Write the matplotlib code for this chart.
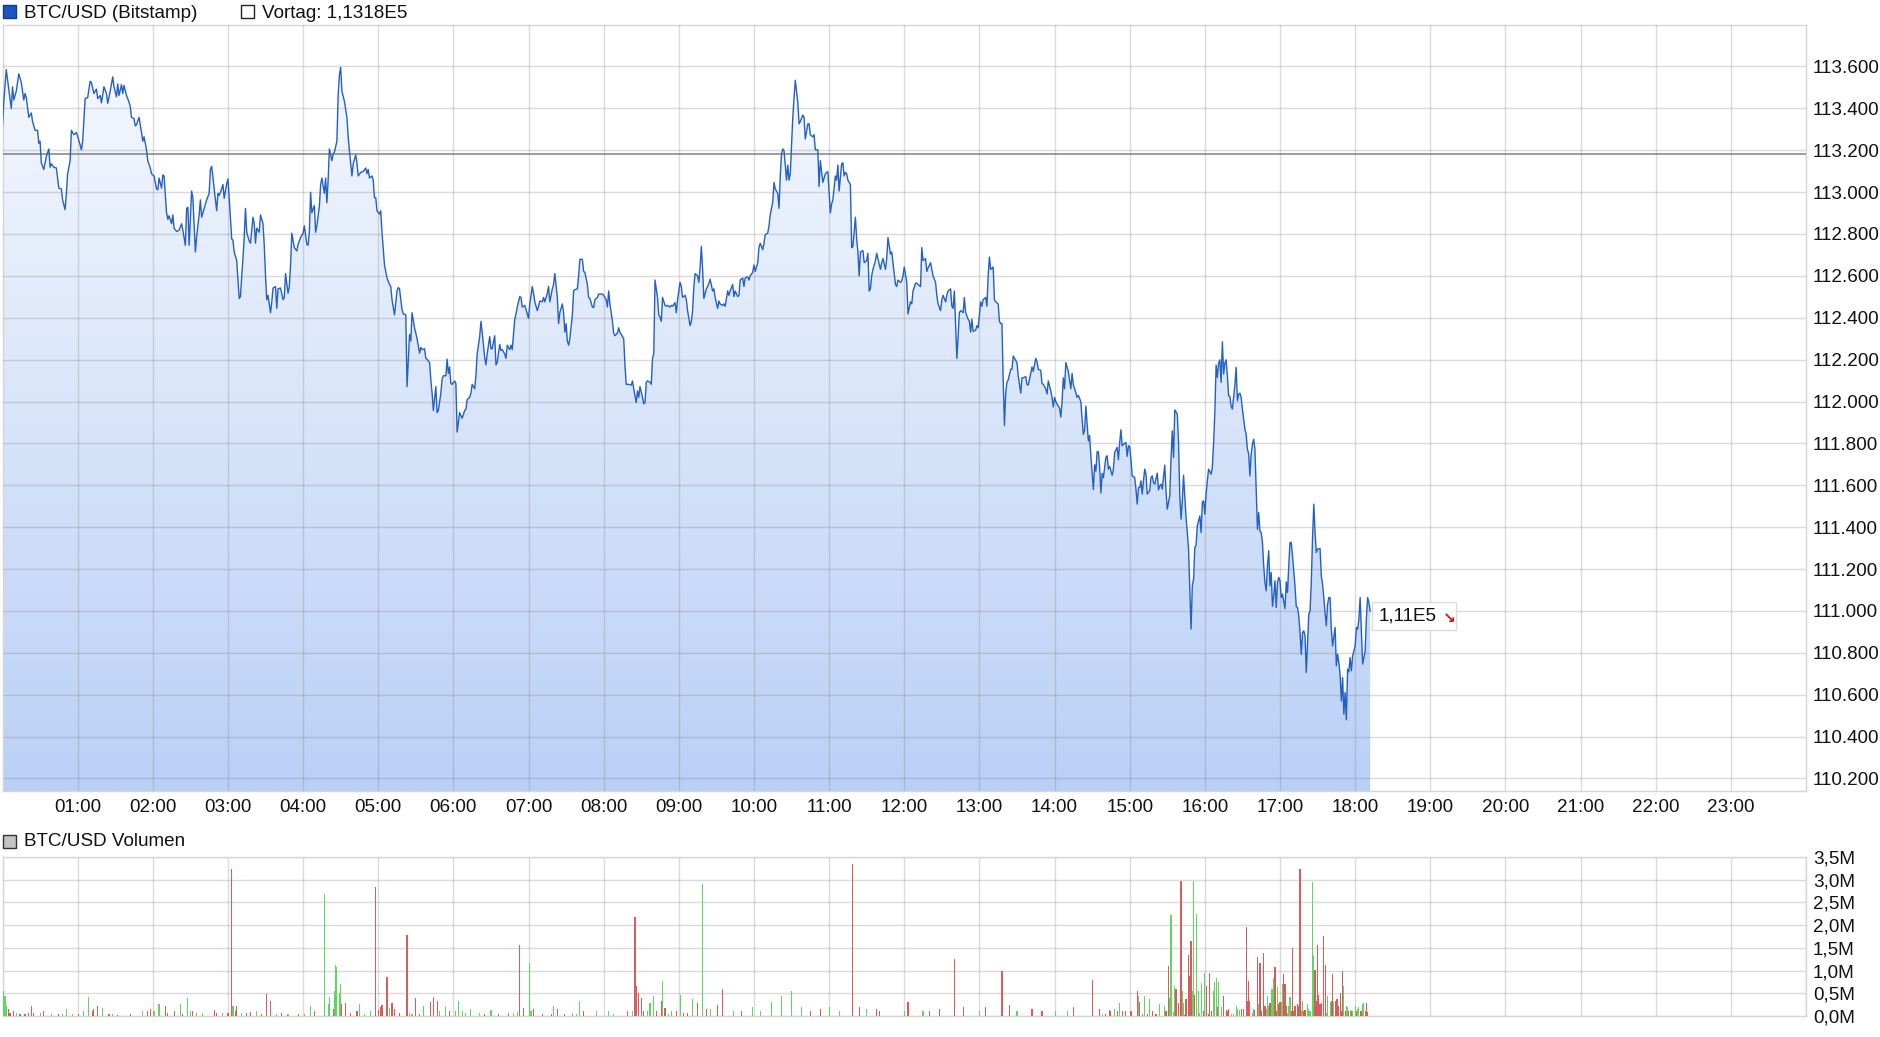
import numpy as np
import matplotlib
matplotlib.use("Agg")
import matplotlib.pyplot as plt
from matplotlib.patches import Rectangle, Polygon
from matplotlib.colors import LinearSegmentedColormap
from matplotlib.transforms import IdentityTransform

# ---------------- data ----------------
price_min = [
0,1,3,5,7,8,9,11,13,15,17,18,19,21,23,24,26,28,29,30,31,33,35,37,38,39,41,43,45,47,48,50,51,52,54,55,57,59,
61,63,64,65,66,68,70,71,73,75,76,78,79,81,83,84,86,88,89,91,92,93,95,96,97,99,101,102,103,105,106,107,109,111,112,113,115,116,118,119,
121,123,124,125,127,128,129,131,132,133,135,136,137,139,141,143,144,146,147,148,149,151,152,154,155,157,158,159,161,163,165,166,167,169,171,172,173,175,176,177,179,
180,181,183,184,185,187,189,190,191,192,193,194,195,197,198,200,201,202,203,205,206,208,209,210,211,212,214,215,216,218,219,220,222,
224,225,226,228,229,230,231,233,235,236,238,240,241,243,244,245,246,247,249,250,251,253,254,255,257,258,259,260,261,263,264,265,267,268,269,270,271,273,275,276,277,279,
280,282,283,284,286,288,290,291,292,293,295,296,297,298,299,301,302,303,305,306,307,309,310,311,313,315,316,317,319,320,322,323,325,326,327,329,330,331,333,334,335,337,338,339,
341,342,343,344,346,347,348,350,351,352,354,355,356,357,358,359,361,362,363,365,366,367,369,370,371,373,374,375,377,378,379,381,382,383,385,386,387,389,390,391,393,394,395,397,398,399,
401,402,403,405,406,407,409,410,411,413,414,415,417,418,420,421,423,424,425,427,428,429,431,432,433,435,436,437,439,440,441,
443,444,445,447,448,449,450,451,452,453,455,456,457,459,460,461,463,464,465,467,468,469,471,472,473,475,476,477,479,
480,482,483,484,485,487,488,489,491,492,493,495,496,497,498,499,500,502,503,504,506,507,508,509,511,512,513,514,515,517,518,519,520,
521,523,524,525,526,527,529,530,531,533,534,535,537,538,539,541,542,543,545,546,547,549,550,551,552,553,555,556,557,558,559,560,
562,563,564,565,567,568,569,571,572,573,575,576,577,579,580,581,583,584,585,587,588,589,591,592,593,595,596,597,599,
600,601,603,604,605,607,608,609,611,612,613,615,616,617,619,620,621,622,623,624,626,627,628,629,631,632,633,635,636,637,639,
640,641,643,644,645,647,648,649,651,652,653,655,656,657,659,
661,662,663,665,666,667,668,670,671,672,673,674,675,677,678,679,681,682,683,684,685,687,688,690,691,692,693,694,695,697,698,699,
701,702,703,705,706,707,709,710,711,713,714,715,717,718,719,720,722,723,725,726,727,729,730,731,733,734,735,737,738,739,
741,742,743,745,746,747,749,750,751,753,754,755,757,758,759,760,762,763,764,765,767,768,769,771,772,773,774,775,777,778,779,
781,782,783,785,786,787,788,789,791,792,793,795,796,797,798,799,800,801,802,803,805,806,807,809,810,811,813,814,815,817,818,819,
821,822,823,825,826,827,829,830,831,833,834,835,837,838,839,840,841,843,844,845,846,847,848,849,851,852,853,854,855,857,858,859,
861,862,863,864,865,867,868,869,871,872,873,874,875,876,877,878,879,
881,882,883,884,886,887,888,890,891,892,893,894,895,897,898,899,900,901,902,904,905,906,907,908,909,910,911,912,913,914,916,917,918,919,
920,922,923,924,925,926,928,929,930,932,933,934,935,936,938,939,940,941,942,943,944,945,946,947,948,949,950,951,952,953,954,956,957,958,959,
960,961,962,963,965,966,967,968,969,970,971,972,973,974,975,976,977,978,979,980,981,982,984,985,986,987,988,989,990,992,993,994,995,996,997,998,999,
1000,1001,1002,1003,1004,1005,1006,1007,1008,1009,1010,1011,1012,1013,1014,1015,1016,1017,1018,1019,1020,1021,1022,1024,1025,1026,1027,1028,1029,1030,1032,1033,1034,1035,1036,1037,1038,1039,
1040,1041,1042,1043,1044,1045,1046,1047,1048,1049,1050,1052,1053,1054,1055,1056,1057,1058,1059,1060,1061,1062,1064,1065,1066,1067,1068,1069,1070,1071,1072,1073,1074,1075,1076,1077,1078,
1080,1081,1082,1083,1084,1085,1086,1088,1089,1090,1091,1092]

price_val = [
113316,113430,113585,113492,113399,113503,113440,113482,113565,113523,113440,113471,113451,113357,113378,113337,113295,113295,113233,113243,113140,113108,113171,113206,113119,113135,113119,113115,113019,113015,112963,112916,112994,113088,113150,113295,113274,113285,
113247,113202,113243,113347,113447,113451,113529,113523,113471,113492,113447,113461,113426,113503,113471,113424,113482,113550,113503,113455,113517,113461,113513,113471,113509,113461,113430,113409,113357,113351,113316,113322,113357,113285,113243,113264,113202,113150,113115,113088,
113077,113015,113011,113067,113019,113082,113077,112901,112870,112887,112849,112891,112828,112812,112818,112849,112818,112746,112922,112928,112746,113005,112974,112714,112787,112891,112963,112880,112922,112963,112994,113108,113123,113019,112911,112994,112984,113015,113036,112970,113040,
113063,112974,112777,112770,112714,112673,112492,112501,112600,112683,112787,112922,112808,112766,112756,112880,112849,112756,112828,112808,112891,112849,112746,112600,112486,112507,112424,112476,112542,112549,112445,112538,112542,
112486,112497,112611,112517,112549,112652,112804,112735,112719,112750,112783,112804,112839,112750,112746,112808,112999,112901,112936,112808,112839,112932,113036,113067,112994,113067,112949,113057,113206,113150,113181,113191,113243,113461,113559,113596,113482,113434,113357,113264,113198,113077,
113135,113177,113140,113077,113094,113098,113115,113088,113108,113067,113077,113057,112974,112974,112911,112895,112911,112808,112652,112621,112590,112559,112549,112486,112414,112528,112544,112538,112439,112418,112414,112071,112320,112289,112424,112351,112327,112300,112231,112258,112248,112252,112206,112202,
112186,112103,112040,111957,112071,111947,111957,112040,112107,112123,112123,112202,112134,112165,112086,112082,112098,112086,111854,111947,111933,111920,111957,111962,112009,112020,112040,112082,112061,112123,112227,112310,112383,112331,112210,112175,112227,112310,112252,112252,112314,112175,112186,112273,112244,112248,
112227,112206,112269,112248,112269,112248,112393,112418,112451,112501,112497,112451,112459,112439,112397,112466,112549,112517,112476,112434,112455,112480,112476,112497,112476,112517,112549,112476,112538,112559,112611,
112497,112372,112424,112466,112424,112331,112372,112289,112269,112300,112414,112528,112534,112538,112600,112679,112679,112621,112617,112559,112497,112492,112451,112449,112486,112497,112513,112513,112513,
112507,112486,112451,112528,112466,112383,112327,112314,112327,112352,112331,112310,112300,112175,112082,112082,112082,112078,112098,112061,111995,112051,112020,112071,112020,111989,111995,112092,112098,112092,112082,112206,112227,
112580,112497,112414,112403,112383,112497,112459,112455,112459,112451,112459,112455,112472,112424,112486,112569,112549,112497,112507,112486,112434,112362,112383,112434,112549,112611,112600,112569,112642,112741,112631,112492,
112538,112549,112565,112584,112528,112538,112497,112445,112480,112466,112459,112466,112455,112528,112507,112528,112559,112501,112528,112501,112507,112580,112590,112549,112590,112596,112580,112600,112617,
112652,112621,112663,112735,112756,112725,112756,112797,112804,112839,112891,112953,113046,113015,112994,112922,113077,113181,113206,113198,113057,113129,113057,113088,113357,113451,113534,113430,113326,113337,113368,
113357,113254,113326,113326,113274,113264,113274,113202,113202,113026,113150,113046,113067,113088,113098,
112901,112943,112963,113077,113057,113129,113005,113135,113140,113077,113094,113088,113057,113036,112735,112741,112880,112777,112714,112600,112714,112721,112663,112673,112708,112528,112538,112600,112631,112673,112708,112683,
112631,112663,112683,112631,112683,112783,112704,112714,112663,112559,112549,112580,112569,112576,112600,112642,112569,112418,112476,112466,112528,112565,112565,112559,112549,112735,112673,112683,112621,112638,
112663,112631,112600,112569,112507,112466,112434,112486,112507,112476,112507,112528,112538,112455,112445,112528,112206,112310,112424,112434,112424,112497,112424,112393,112383,112331,112393,112335,112341,112362,112352,
112476,112455,112486,112497,112455,112600,112690,112631,112642,112486,112476,112466,112383,112372,112372,112103,111885,112040,112092,112103,112154,112154,112217,112196,112186,112123,112040,112113,112113,112119,112082,112078,
112134,112165,112144,112206,112190,112154,112148,112086,112082,112061,112036,112098,112051,112020,111974,112020,111999,111978,111968,111926,111999,112113,112061,112186,112144,112103,112061,112134,112082,112040,112020,112030,
111999,111916,111843,111864,111978,111812,111837,111740,111580,111698,111667,111760,111760,111688,111563,111657,111636,
111733,111741,111677,111690,111648,111677,111757,111781,111722,111804,111865,111789,111796,111804,111738,111789,111785,111725,111645,111637,111581,111510,111589,111589,111621,111558,111621,111677,111653,111558,111574,111637,111645,111613,
111605,111658,111578,111597,111605,111582,111696,111574,111486,111550,111725,111860,111733,111960,111940,111804,111550,111438,111526,111648,111550,111446,111374,111295,111104,110913,111120,111152,111303,111314,111406,111454,111374,111518,111526,
111462,111558,111621,111677,111653,111685,111804,111948,112174,112115,112183,112199,112091,112285,112131,112183,112199,112123,112027,112024,111976,111964,112078,112163,112004,112035,112040,112019,111964,111868,111844,111773,111749,111645,111749,111796,111820,
111773,111582,111390,111470,111382,111374,111327,111215,111136,111096,111215,111287,111120,111183,111021,111072,111144,111016,111136,111160,111144,111064,111080,111011,111139,111088,111215,111327,111327,111263,111120,111021,111016,110976,110897,110793,110897,110905,
110881,110706,110849,110984,111000,111136,111351,111510,111374,111279,111295,111298,111167,111128,111064,110992,110929,111032,111064,111064,110913,110833,110921,110738,110793,110753,110698,110570,110682,110507,110610,110480,110722,110709,110777,110714,110785,
110833,110921,110913,110960,111064,110905,110746,110809,110968,111064,111040,111000]

vortag = 113180
last_label = "1,11E5"

y_ticks = [110200,110400,110600,110800,111000,111200,111400,111600,111800,112000,
           112200,112400,112600,112800,113000,113200,113400,113600]
y_labels = ["110.200","110.400","110.600","110.800","111.000","111.200","111.400","111.600","111.800","112.000",
            "112.200","112.400","112.600","112.800","113.000","113.200","113.400","113.600"]
x_labels = ["01:00","02:00","03:00","04:00","05:00","06:00","07:00","08:00","09:00","10:00","11:00","12:00",
            "13:00","14:00","15:00","16:00","17:00","18:00","19:00","20:00","21:00","22:00","23:00"]
vol_ticks = [0.0,0.5,1.0,1.5,2.0,2.5,3.0,3.5]
vol_labels = ["0,0M","0,5M","1,0M","1,5M","2,0M","2,5M","3,0M","3,5M"]

vol_min = [1,2,3,5,6,9,11,14,18,21,23,25,30,33,39,45,48,51,56,61,65,69,72,73,76,80,85,88,92,102,112,116,118,121,125,130,132,137,142,144,148,150,152,155,160,
169,171,176,180,183,184,186,187,191,195,198,203,207,211,214,219,223,228,236,241,246,249,257,260,261,264,265,266,267,269,270,271,274,278,283,285,289,294,298,
300,302,303,307,309,311,313,317,323,325,327,330,333,336,342,344,347,349,354,357,362,364,367,370,374,381,385,390,396,404,408,411,413,416,421,422,424,431,438,
440,443,449,455,458,461,464,474,484,488,499,503,505,506,508,510,512,515,517,520,522,526,527,529,532,534,538,541,544,547,551,555,
559,562,565,571,575,584,590,599,605,614,622,630,638,645,653,660,668,679,684,690,698,700,720,723,735,740,748,760,767,780,785,798,804,810,822,830,841,850,855,870,
876,878,881,884,885,888,890,892,894,897,901,906,907,908,910,912,914,916,918,921,924,928,929,931,932,933,935,936,937,939,941,942,943,944,945,947,948,949,
950,951,952,953,955,956,957,959,960,961,963,964,965,967,968,969,970,971,973,975,977,978,979,981,983,985,986,988,989,991,993,994,995,996,998,999,
1000,1002,1003,1004,1005,1007,1008,1009,1010,1011,1012,1013,1014,1015,1016,1017,1018,1019,1020,1021,1022,1023,1024,1025,1026,1027,1028,1029,1030,1031,1032,1034,1035,1036,1037,1038,1039,
1040,1042,1043,1044,1046,1047,1048,1049,1050,1051,1052,1053,1055,1056,1057,1058,1060,1061,1062,1063,1064,1065,1066,1067,1068,1069,1070,1071,1072,1073,1074,1075,1076,1077,1078,
1080,1081,1082,1083,1084,1085,1086,1087,1088,1089,1090]
vol_val = [.56,.45,.21,.16,.07,.12,.07,.05,.04,.06,.21,.06,.06,.10,.04,.04,.04,.15,.05,.05,.10,.41,.10,.16,.21,.17,.04,.04,.03,.05,.12,.10,.15,.12,.26,.21,.07,.12,.26,.05,.39,.10,.12,.07,.06,
.14,.07,.07,.07,3.24,.23,.12,.22,.06,.06,.09,.10,.04,.48,.34,.04,.07,.04,.05,.04,.21,.12,2.69,.26,.42,.16,.56,1.13,1.08,.51,.70,.26,.29,.06,.12,.26,.05,.10,2.83,
.13,.20,.24,.86,.17,.28,.16,.06,1.79,.07,.05,.39,.05,.21,.30,.41,.34,.10,.19,.10,.10,.32,.12,.07,.15,.07,.05,.14,.04,.06,.07,.08,1.57,.17,1.16,.12,.16,.04,.04,
.21,.16,.05,.07,.05,.34,.10,.10,.10,.05,.10,.10,2.17,.67,.50,.39,.10,.10,.28,.45,.12,.34,.76,.17,.05,.10,.10,.46,.07,.06,.37,.28,
2.90,.15,.15,.25,.60,.10,.10,.20,.12,.30,.45,.55,.20,.10,.15,.20,.10,3.35,.20,.15,.15,.10,.12,.30,.10,.10,.15,1.25,.20,.10,.20,1.00,.25,.12,.15,.10,.10,.10,.20,.80,
.16,.05,.05,.14,.12,.16,.10,.29,.10,.12,.12,.56,.45,.31,.05,.45,.05,.37,.12,.05,.26,.21,.10,1.10,.39,2.23,.09,.67,.59,.29,2.98,.54,.29,.03,.37,1.35,.89,1.64,
.56,2.98,.47,2.25,.54,.07,.72,.12,.95,.67,.04,.94,.12,.54,.75,.84,.20,.74,.20,.43,.14,.10,.16,.05,.05,.23,.16,.14,.16,.15,1.97,.34,.78,.32,.07,.16,
.14,1.30,.26,1.16,.12,1.38,.23,.16,.45,.21,.29,.60,.60,.83,1.08,.12,.63,.26,.31,.30,.70,.92,.71,.21,.07,.21,.41,.10,1.49,.10,.21,.26,.23,3.24,.14,.32,.10,
.14,.26,.16,.10,2.94,1.35,1.02,.34,1.57,.47,.26,.28,1.77,1.13,.07,.45,.30,.32,.92,.30,.34,.37,.37,.23,.51,.10,1.00,.66,.12,.21,.19,.12,.14,.12,.10,
.21,.10,.16,.19,.10,.12,.26,.28,.10,.28,.08]
vol_up = [1,1,1,0,0,0,1,0,0,0,0,0,1,0,1,0,1,1,1,0,1,1,0,0,0,1,0,1,0,0,1,0,0,1,1,0,0,0,1,0,1,1,0,1,1,
0,0,1,0,0,1,0,0,1,0,0,1,0,0,0,1,0,1,0,1,1,0,1,1,1,0,1,1,1,1,1,0,0,0,0,1,1,1,0,
0,0,0,0,1,0,0,0,0,1,1,0,0,1,0,0,0,1,1,0,1,1,1,1,1,1,0,1,0,0,1,1,0,0,1,1,0,0,0,
1,0,0,1,1,1,0,1,1,1,0,1,0,0,0,0,0,1,1,1,0,0,1,0,1,1,0,1,0,0,1,0,
1,0,1,0,0,1,0,1,1,1,1,1,1,0,0,1,1,0,0,1,0,0,1,0,1,0,0,0,0,1,0,0,0,1,0,0,1,1,0,0,
0,1,0,0,0,1,0,1,0,0,0,0,1,0,0,1,0,1,0,0,1,1,0,0,1,1,1,1,0,0,0,1,1,0,0,0,0,0,
1,1,0,1,1,1,1,0,1,0,0,0,0,1,1,1,0,1,1,0,0,0,0,1,1,1,1,1,0,0,0,0,0,0,1,1,
0,0,1,0,0,0,0,1,1,1,0,1,1,1,0,0,1,0,0,1,1,0,0,0,1,1,1,0,0,0,0,0,0,0,1,1,0,
0,1,1,1,1,1,0,0,0,0,0,0,0,0,1,1,1,0,0,1,0,0,0,0,0,0,0,1,0,1,1,0,1,0,1,
1,0,1,1,0,0,1,1,0,0,0]

# ---------------- layout ----------------
W, H = 1880, 1037
fig = plt.figure(figsize=(W / 100, H / 100), dpi=100)
plt.rcParams["font.family"] = ["Liberation Sans", "DejaVu Sans"]
FS = 13.6
GRID = "#7f7f7f"
SPINE = "#d6d6d6"

def fx(px):
    return px / W

def fy(py):
    return 1 - py / H

L, R = 2.5, 1806
ax = fig.add_axes([fx(L), fy(791), fx(R) - fx(L), fy(25) - fy(791)])
axv = fig.add_axes([fx(L), fy(1016), fx(R) - fx(L), fy(857) - fy(1016)])

t = np.array(price_min, dtype=float)
p = np.array(price_val, dtype=float)
YMIN, YMAX = 110140, 113798
ax.set_xlim(0, 1440)
ax.set_ylim(YMIN, YMAX)

# gradient area fill
cmap = LinearSegmentedColormap.from_list("g", ["#f8fafe", "#b9d0f6"])
grad = np.linspace(0, 1, 256).reshape(-1, 1)
im = ax.imshow(grad, extent=[0, 1440, YMIN, YMAX], origin="upper", aspect="auto",
               cmap=cmap, zorder=1, interpolation="bilinear")
verts = [(t[0], YMIN)] + list(zip(t, p)) + [(t[-1], YMIN)]
poly = Polygon(verts, closed=True, facecolor="none", edgecolor="none", transform=ax.transData)
ax.add_patch(poly)
im.set_clip_path(poly)

ax.plot(t, p, color="#2460c4", lw=1.0, zorder=3, solid_joinstyle="round")
ax.axhline(vortag, color="#808080", lw=1.1, zorder=2.8)

ax.set_yticks(y_ticks)
ax.set_yticklabels(y_labels)
ax.set_xticks(np.arange(60, 1440, 60))
ax.set_xticklabels(x_labels)
ax.yaxis.tick_right()
ax.tick_params(axis="y", length=0, pad=5, labelsize=FS, colors="#111111")
ax.tick_params(axis="x", length=0, pad=6, labelsize=FS, colors="#111111")
ax.set_axisbelow(False)
ax.grid(True, color=GRID, alpha=0.28, lw=1.0, zorder=2.5)
for s in ax.spines.values():
    s.set_color(SPINE)
    s.set_linewidth(1.0)

# ---------------- volume ----------------
vm = np.array(vol_min, dtype=float)
vv = np.array(vol_val, dtype=float)
vu = np.array(vol_up)
cols = np.where(vu == 1, "#5fd65f", "#d95c5c")
axv.bar(vm, vv, width=0.9, color=cols, align="center", zorder=3, linewidth=0)
axv.set_xlim(0, 1440)
axv.set_ylim(0, 3.5)
axv.set_yticks(vol_ticks)
axv.set_yticklabels(vol_labels)
axv.set_xticks(np.arange(0, 1441, 60))
axv.set_xticklabels([])
axv.yaxis.tick_right()
axv.tick_params(axis="y", length=0, pad=5, labelsize=FS, colors="#111111")
axv.tick_params(axis="x", length=0)
axv.grid(True, color=GRID, alpha=0.28, lw=1.0, zorder=1)
axv.set_axisbelow(True)
for s in axv.spines.values():
    s.set_color(SPINE)
    s.set_linewidth(1.0)

# ---------------- legends / labels ----------------
def square(x, y, face, edge):
    fig.patches.append(Rectangle((fx(x), fy(y + 13)), fx(13), 13 / H, facecolor=face,
                                 edgecolor=edge, lw=1.0, transform=fig.transFigure))

square(3, 5, "#1b55c0", "#0e3a8c")
fig.text(fx(24), fy(13.5), "BTC/USD (Bitstamp)", fontsize=FS, va="center", ha="left", color="#111111")
square(241, 5, "#ffffff", "#222222")
fig.text(fx(262), fy(13.5), "Vortag: 1,1318E5", fontsize=FS, va="center", ha="left", color="#111111")
square(3, 835, "#c4c4c4", "#333333")
fig.text(fx(24), fy(842), "BTC/USD Volumen", fontsize=FS, va="center", ha="left", color="#111111")

# last value box
fig.canvas.draw()
xd, yd = ax.transData.transform((t[-1], p[-1]))
yb = yd - 5
box = Rectangle((xd + 2, yb - 14), 84, 28, facecolor="white", edgecolor="#dcdcdc", lw=1.0,
                transform=IdentityTransform(), zorder=10)
fig.patches.append(box)
fig.text((xd + 8) / W, yb / H, last_label, fontsize=FS, va="center", ha="left", color="#111111", zorder=11)
fig.text((xd + 73) / W, (yb - 3) / H, "\u2198", fontsize=11, va="center", ha="left", color="#e01010",
         family=["DejaVu Sans"], zorder=11, fontweight="bold")

fig.savefig("out.png", dpi=100)
